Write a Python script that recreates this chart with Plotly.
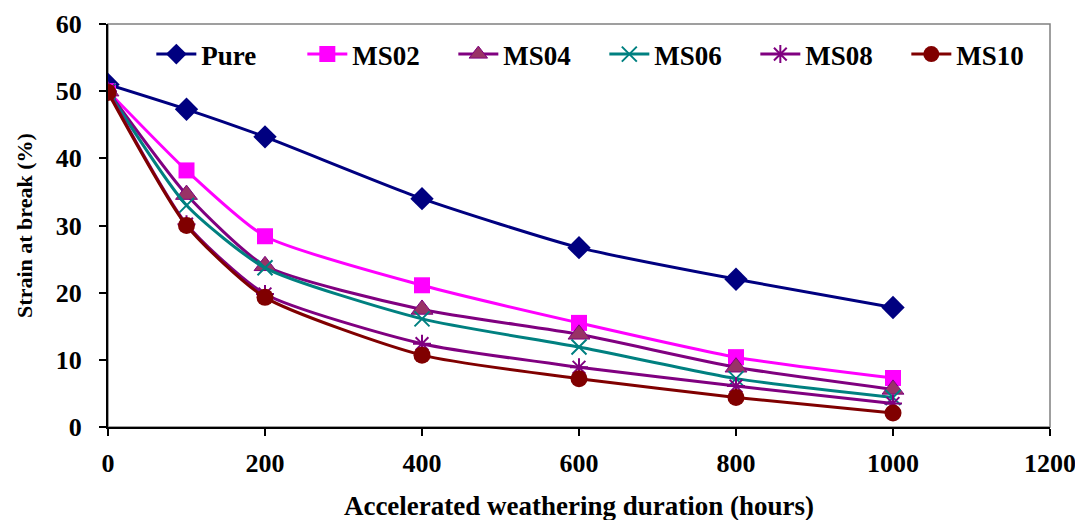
import plotly.graph_objects as go

hours = [0, 100, 200, 400, 600, 800, 1000]
pure = [51.0, 47.3, 43.2, 34.0, 26.7, 22.0, 17.8]
ms02 = [50.0, 38.2, 28.4, 21.1, 15.5, 10.4, 7.3]
ms04 = [50.0, 34.6, 24.0, 17.5, 13.8, 8.9, 5.6]
ms06 = [50.0, 33.0, 23.7, 16.1, 11.9, 7.2, 4.4]
ms08 = [50.0, 30.2, 19.8, 12.4, 8.9, 6.1, 3.5]
ms10 = [49.8, 30.0, 19.3, 10.7, 7.2, 4.4, 2.1]

series = [
    ("Pure", pure, "#000080", dict(symbol="diamond", size=18, color="#000080")),
    ("MS02", ms02, "#FF00FF", dict(symbol="square", size=16, color="#FF00FF")),
    ("MS04", ms04, "#800080", dict(symbol="triangle-up", size=19, color="#993366",
                                   line=dict(color="#800080", width=1))),
    ("MS06", ms06, "#008080", dict(symbol="x-thin-open", size=15, color="#008080",
                                   line=dict(color="#008080", width=2))),
    ("MS08", ms08, "#800080", dict(symbol="asterisk-open", size=15, color="#800080",
                                   line=dict(color="#800080", width=2))),
    ("MS10", ms10, "#800000", dict(symbol="circle", size=17, color="#800000")),
]

FONT = "Liberation Serif"

fig = go.Figure()
for name, vals, col, mk in series:
    fig.add_trace(go.Scatter(
        x=hours, y=vals, name=name, mode="lines+markers",
        line=dict(color=col, width=3, shape="spline", smoothing=0.6),
        marker=mk,
    ))

fig.add_shape(type="rect", xref="x domain", yref="y domain", x0=0, x1=1, y0=0, y1=1,
              line=dict(color="#808080", width=1.5), layer="below")

fig.update_layout(
    width=1083, height=520,
    margin=dict(l=100, r=41, t=16, b=101),
    paper_bgcolor="white", plot_bgcolor="white",
    font=dict(family=FONT, size=24, color="black"),
    showlegend=True,
    legend=dict(orientation="h", x=0.046, y=0.985, xanchor="left", yanchor="top",
                font=dict(family=FONT, size=27, color="black", weight="bold"),
                entrywidth=96, entrywidthmode="pixels", itemwidth=40,
                bgcolor="rgba(0,0,0,0)", tracegroupgap=0),
)
fig.update_xaxes(
    range=[0, 1200], tickvals=[0, 200, 400, 600, 800, 1000, 1200],
    showgrid=False, zeroline=False, showline=True, linecolor="black", linewidth=2,
    ticks="outside", ticklen=7, tickwidth=1.5, tickcolor="black",
    ticklabelstandoff=5, automargin=False,
    tickfont=dict(family=FONT, size=26, color="black", weight="bold"),
    title=dict(text="Accelerated weathering duration (hours)", standoff=19,
               font=dict(family=FONT, size=27, color="black", weight="bold")),
)
fig.update_yaxes(
    range=[0, 60], tickvals=[0, 10, 20, 30, 40, 50, 60],
    showgrid=False, zeroline=False, showline=True, linecolor="black", linewidth=2,
    ticks="outside", ticklen=7, tickwidth=1.5, tickcolor="black",
    ticklabelstandoff=12, automargin=False,
    tickfont=dict(family=FONT, size=26, color="black", weight="bold"),
    title=dict(text="Strain at break (%)", standoff=17,
               font=dict(family=FONT, size=22, color="black", weight="bold")),
)

fig.write_html("out.html")
